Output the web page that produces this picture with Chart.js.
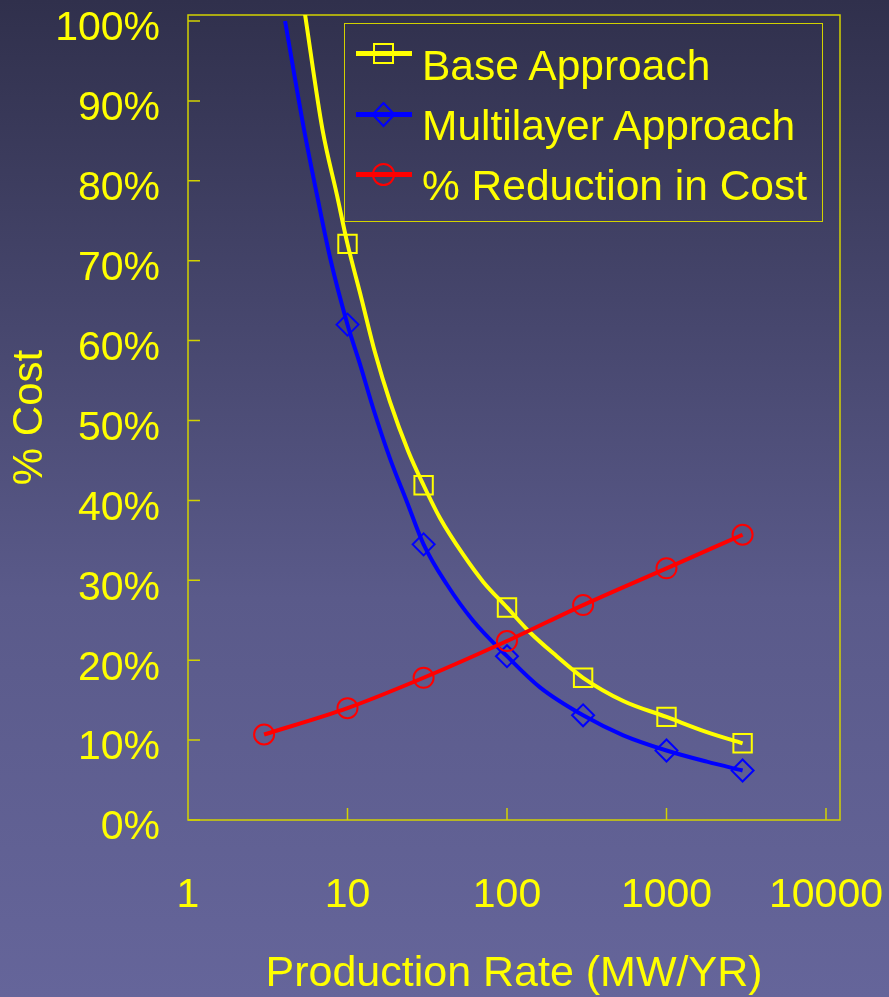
<!DOCTYPE html>
<html>
<head>
<meta charset="utf-8">
<script src="https://cdn.jsdelivr.net/npm/chart.js@4.4.0/dist/chart.umd.min.js"></script>
<style>
  html, body { margin: 0; padding: 0; }
  body {
    width: 889px; height: 997px; overflow: hidden;
    background: linear-gradient(to bottom, #30304c 0%, #5a5a8a 60%, #65659a 100%);
    font-family: "Liberation Sans", Arial, sans-serif;
  }
  #wrap { position: relative; width: 889px; height: 997px; }
  #legend {
    position: absolute; left: 344px; top: 23px; width: 477px; height: 197px;
    border: 1.5px solid #d2d200;
  }
  #legend .sym { position: absolute; left: 11px; }
  #legend .txt {
    position: absolute; left: 77px; color: #ffff00;
    font-size: 42.5px; line-height: 50px; white-space: nowrap;
  }
</style>
</head>
<body>
<div id="wrap">
  <canvas id="chart"></canvas>
  <div id="legend"></div>
</div>
<script>
// --- data ---
const xTicks = [1, 10, 100, 1000, 10000];
const yTicks = [0, 10, 20, 30, 40, 50, 60, 70, 80, 90, 100];

const seriesNames = ['Base Approach', 'Multilayer Approach', '% Reduction in Cost'];
const seriesColors = ['#ffff00', '#0000ff', '#ff0000'];

// marked points
const rates = [10, 30, 100, 300, 1000, 3000];
const baseCost = [72.1, 41.9, 26.6, 17.8, 12.9, 9.6];
const multiCost = [62.0, 34.5, 20.5, 13.1, 8.7, 6.2];

const reductionRates = [3, 10, 30, 100, 300, 1000, 3000];
const reductionPct = [10.7, 14.0, 17.8, 22.4, 26.9, 31.5, 35.7];

// fitted cost curves
const baseCurveX = [5.41, 6.97, 8.59, 10, 12.15, 14.88, 18.5, 24.1, 30, 38.0, 53.2, 71.0, 100, 139, 205, 300, 536, 1000, 1790, 3000];
const baseCurveY = [100.9, 86.4, 78.2, 72.1, 65.5, 58.5, 52.3, 46.1, 41.9, 37.8, 33.2, 29.8, 26.6, 23.5, 20.5, 17.8, 14.9, 12.9, 11.0, 9.6];
const multiCurveX = [4.06, 5.34, 6.44, 7.77, 10, 12.0, 14.5, 18.5, 23.5, 30, 41.9, 61.5, 100, 161, 300, 536, 1000, 1790, 3000];
const multiCurveY = [100, 86.4, 78.2, 70.4, 62.0, 57.0, 51.5, 45.2, 39.9, 34.5, 29.5, 24.9, 20.5, 16.6, 13.1, 10.6, 8.7, 7.3, 6.2];

const $ = id => document.getElementById(id);
const frameColor = '#d2d200';
const FONT = '"Liberation Sans", Arial, sans-serif';

function pts(xs, ys) {
    return xs.map((x, i) => ({ x, y: ys[i] }));
}

function lineSet(idx, data, order) {
    return {
        label: seriesNames[idx],
        data,
        borderColor: seriesColors[idx],
        borderWidth: 4,
        pointRadius: 0,
        cubicInterpolationMode: 'monotone',
        fill: false,
        order
    };
}

function markerSet(idx, data, style, radius, order) {
    return {
        label: seriesNames[idx],
        data,
        showLine: false,
        pointStyle: style,
        pointRadius: radius,
        pointBorderColor: seriesColors[idx],
        pointBorderWidth: 2,
        pointBackgroundColor: 'rgba(0,0,0,0)',
        order
    };
}

// frame round the plot and the small inner tick marks
const framePlugin = {
    id: 'frame',
    beforeDatasetsDraw(chart) {
        const { ctx, chartArea: a, scales: { x, y } } = chart;
        ctx.save();
        ctx.strokeStyle = frameColor;
        ctx.lineWidth = 1.5;
        ctx.strokeRect(a.left, a.top, a.right - a.left, a.bottom - a.top);
        ctx.beginPath();
        yTicks.forEach(v => {
            const py = y.getPixelForValue(v);
            ctx.moveTo(a.left, py);
            ctx.lineTo(a.left + 12, py);
        });
        xTicks.slice(1).forEach(v => {
            const px = x.getPixelForValue(v);
            ctx.moveTo(px, a.bottom);
            ctx.lineTo(px, a.bottom - 12);
        });
        ctx.stroke();
        ctx.restore();
    }
};

const reductionSet = markerSet(2, pts(reductionRates, reductionPct), 'circle', 10, 0);
Object.assign(reductionSet, { showLine: true, borderColor: seriesColors[2], borderWidth: 4, cubicInterpolationMode: 'monotone' });

new Chart($('chart'), {
    type: 'line',
    data: {
        datasets: [
            lineSet(0, pts(baseCurveX, baseCurveY), 4),
            markerSet(0, pts(rates, baseCost), 'rect', 13, 3),
            lineSet(1, pts(multiCurveX, multiCurveY), 2),
            markerSet(1, pts(rates, multiCost), 'rectRot', 11, 1),
            reductionSet
        ]
    },
    options: {
        responsive: true,
        maintainAspectRatio: false,
        animation: false,
        events: [],
        layout: { padding: { top: 11, right: 49, left: 0, bottom: 0 } },
        plugins: { legend: { display: false }, tooltip: { enabled: false } },
        scales: {
            x: {
                type: 'logarithmic',
                min: 1,
                max: 12240,
                grid: { display: false, drawTicks: false },
                border: { display: false },
                afterBuildTicks: s => { s.ticks = xTicks.map(v => ({ value: v })); },
                afterFit: s => { s.height = 177; s.paddingLeft = 0; s.paddingRight = 0; },
                ticks: {
                    color: '#ffff00',
                    font: { family: FONT, size: 41 },
                    padding: 51,
                    maxRotation: 0,
                    autoSkip: false,
                    callback: v => String(v)
                },
                title: {
                    display: true,
                    text: 'Production Rate (MW/YR)',
                    color: '#ffff00',
                    font: { family: FONT, size: 43, lineHeight: 1.05 },
                    padding: { top: 0, bottom: 0 }
                }
            },
            y: {
                min: 0,
                max: 100.75,
                grid: { display: false, drawTicks: false },
                border: { display: false },
                afterBuildTicks: s => { s.ticks = yTicks.map(v => ({ value: v })); },
                afterFit: s => { s.width = 188; s.paddingTop = 0; s.paddingBottom = 0; },
                ticks: {
                    color: '#ffff00',
                    font: { family: FONT, size: 41 },
                    padding: 28,
                    labelOffset: 8,
                    autoSkip: false,
                    callback: v => v + '%'
                },
                title: {
                    display: true,
                    text: '% Cost',
                    color: '#ffff00',
                    font: { family: FONT, size: 42 },
                    padding: { top: 5, bottom: 0 }
                }
            }
        }
    },
    plugins: [framePlugin]
});

// legend: line with the marker on it, then the name
const legendSyms = [
    '<rect x="18" y="3" width="19" height="19" fill="none" stroke="#ffff00" stroke-width="2"/>',
    '<polygon points="27.5,1 38.5,12.5 27.5,24 16.5,12.5" fill="none" stroke="#0000ff" stroke-width="2"/>',
    '<circle cx="27.5" cy="12.5" r="10.5" fill="none" stroke="#ff0000" stroke-width="2"/>'
];
const symTops = [17, 78, 138];
const txtTops = [17, 77, 137];
$('legend').innerHTML = seriesNames.map((name, i) =>
    `<svg class="sym" style="top:${symTops[i]}px" width="56" height="26">` +
    `<line x1="0" y1="12.5" x2="56" y2="12.5" stroke="${seriesColors[i]}" stroke-width="5"/>` +
    legendSyms[i] + '</svg>' +
    `<div class="txt" style="top:${txtTops[i]}px">${name}</div>`
).join('');
</script>
</body>
</html>
